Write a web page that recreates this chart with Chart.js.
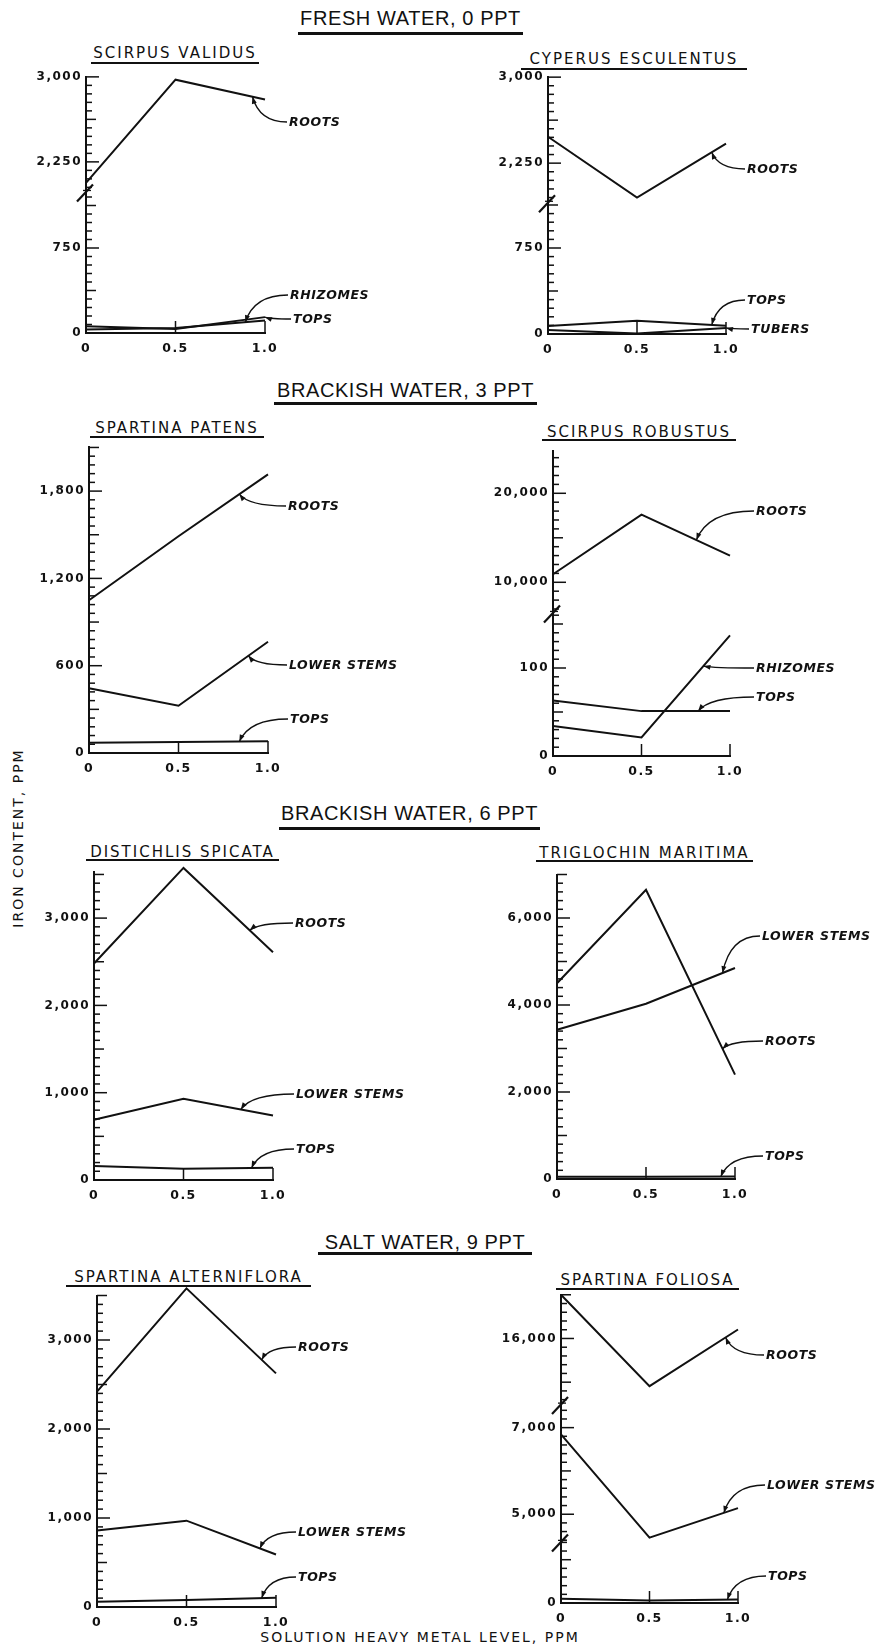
<!DOCTYPE html>
<html><head><meta charset="utf-8">
<script src="https://cdn.jsdelivr.net/npm/chart.js@4.4.1/dist/chart.umd.min.js"></script>
<style>
html,body{margin:0;padding:0;background:#fff;}
#page{position:relative;width:883px;height:1647px;overflow:hidden;background:#fff;color:#111;}
.sec{position:absolute;font-family:"Liberation Sans",Arial,sans-serif;font-size:20px;letter-spacing:0.6px;line-height:24px;height:24px;text-align:center;white-space:nowrap;}
.ptl{position:absolute;font-family:"DejaVu Sans",sans-serif;font-size:15px;letter-spacing:2px;line-height:18px;height:18px;text-align:center;white-space:nowrap;}
.ul{position:absolute;background:#111;}
.panel{position:absolute;}
.panel canvas{display:block;}
.ax{position:absolute;font-family:"DejaVu Sans",sans-serif;font-size:14px;letter-spacing:2px;line-height:18px;height:18px;white-space:nowrap;text-align:center;}
</style></head>
<body><div id="page"></div>
<script>
const INK = '#111';
const FONT = '"DejaVu Sans", sans-serif';

// ---------- x axis ----------
const xLevels = [0, 0.5, 1.0];
const xTickLabels = ['0', '0.5', '1.0'];

// ---------- FRESH WATER, 0 PPT ----------
const scirpusValidusRoots = [2065, 2975, 2800];
const scirpusValidusRhizomes = [30, 45, 110];
const scirpusValidusTops = [60, 35, 140];
const scirpusValidusTickLabels = [0, 750, 2250, 3000];

const cyperusRoots = [2480, 1950, 2420];
const cyperusTops = [70, 115, 73];
const cyperusTubers = [35, 5, 53];
const cyperusTickLabels = [0, 750, 2250, 3000];

// ---------- BRACKISH WATER, 3 PPT ----------
const patensRoots = [1050, 1490, 1915];
const patensLowerStems = [445, 325, 765];
const patensTops = [70, 75, 80];
const patensTickLabels = [0, 600, 1200, 1800];

const robustusRoots = [10900, 17600, 13000];
const robustusRhizomes = [34, 21, 137];
const robustusTops = [63, 51, 51];
const robustusTickLabels = [0, 100, 10000, 20000];

// ---------- BRACKISH WATER, 6 PPT ----------
const distichlisRoots = [2480, 3575, 2610];
const distichlisLowerStems = [690, 930, 740];
const distichlisTops = [160, 130, 140];
const distichlisTickLabels = [0, 1000, 2000, 3000];

const triglochinRoots = [4500, 6650, 2400];
const triglochinLowerStems = [3430, 4030, 4850];
const triglochinTops = [50, 50, 55];
const triglochinTickLabels = [0, 2000, 4000, 6000];

// ---------- SALT WATER, 9 PPT ----------
const alternifloraRoots = [2420, 3580, 2625];
const alternifloraLowerStems = [860, 970, 590];
const alternifloraTops = [60, 80, 105];
const alternifloraTickLabels = [0, 1000, 2000, 3000];

const foliosaRoots = [18000, 13820, 16410];
const foliosaLowerStems = [6845, 4460, 5140];
const foliosaTops = [100, 60, 80];
const foliosaTickLabels = [0, 5000, 7000, 16000];

// ---------- layout ----------
const sections = [
  {t: 'FRESH WATER, 0 PPT', x0: 298, x1: 523, cy: 18, uy: 33},
  {t: 'BRACKISH WATER, 3 PPT', x0: 274, x1: 537, cy: 390, uy: 403},
  {t: 'BRACKISH WATER, 6 PPT', x0: 279, x1: 540, cy: 813, uy: 828},
  {t: 'SALT WATER, 9 PPT', x0: 318, x1: 532, cy: 1242, uy: 1253}
];
const cols = [{x: 0, w: 440}, {x: 440, w: 443}];
const rows = [{y: 40, h: 330}, {y: 425, h: 362}, {y: 850, h: 360}, {y: 1275, h: 362}];
const WY = 78, HX = 26;

const panels = [
  {title: 'SCIRPUS VALIDUS', tx0: 91, tx1: 259, tcy: 53, tuy: 63, col: 0, row: 0,
   area: {left: 86, right: 265, bottom: 333}, labels: scirpusValidusTickLabels,
   segs: [{min: 0, max: 1240, k: 85/750, minor: 75, half: 375}, {min: 1980, max: 3000, k: 85/750, minor: 75, half: 375}],
   series: [{name: 'ROOTS', data: scirpusValidusRoots, seg: 1}, {name: 'RHIZOMES', data: scirpusValidusRhizomes, seg: 0}, {name: 'TOPS', data: scirpusValidusTops, seg: 0}],
   notes: [{s: 'ROOTS', tx: 0.93, lx: 289, ly: 123}, {s: 'RHIZOMES', tx: 0.89, lx: 290, ly: 296}, {s: 'TOPS', tx: 1.0, lx: 293, ly: 320}]},
  {title: 'CYPERUS ESCULENTUS', tx0: 521, tx1: 747, tcy: 59, tuy: 69, col: 1, row: 0,
   area: {left: 548, right: 726, bottom: 334}, labels: cyperusTickLabels,
   segs: [{min: 0, max: 1140, k: 86/750, minor: 75, half: 375}, {min: 1900, max: 3000, k: 86/750, minor: 75, half: 375}],
   series: [{name: 'ROOTS', data: cyperusRoots, seg: 1}, {name: 'TOPS', data: cyperusTops, seg: 0}, {name: 'TUBERS', data: cyperusTubers, seg: 0}],
   notes: [{s: 'ROOTS', tx: 0.92, lx: 747, ly: 170}, {s: 'TOPS', tx: 0.92, lx: 747, ly: 301}, {s: 'TUBERS', tx: 1.0, lx: 751, ly: 330}]},
  {title: 'SPARTINA PATENS', tx0: 90, tx1: 264, tcy: 428, tuy: 437, col: 0, row: 1,
   area: {left: 89, right: 268, bottom: 753}, labels: patensTickLabels,
   segs: [{min: 0, max: 2100, k: 87.3/600, minor: 60, half: 300}],
   series: [{name: 'ROOTS', data: patensRoots, seg: 0}, {name: 'LOWER STEMS', data: patensLowerStems, seg: 0}, {name: 'TOPS', data: patensTops, seg: 0}],
   notes: [{s: 'ROOTS', tx: 0.84, lx: 288, ly: 507}, {s: 'LOWER STEMS', tx: 0.89, lx: 289, ly: 666}, {s: 'TOPS', tx: 0.84, lx: 290, ly: 720}]},
  {title: 'SCIRPUS ROBUSTUS', tx0: 542, tx1: 736, tcy: 432, tuy: 440, col: 1, row: 1,
   area: {left: 553, right: 730, bottom: 756}, labels: robustusTickLabels,
   segs: [{min: 0, max: 162, k: 0.88, minor: 10, half: 50}, {min: 6500, max: 24800, k: 0.0089, minor: 1000, half: 5000}],
   series: [{name: 'ROOTS', data: robustusRoots, seg: 1}, {name: 'RHIZOMES', data: robustusRhizomes, seg: 0}, {name: 'TOPS', data: robustusTops, seg: 0}],
   notes: [{s: 'ROOTS', tx: 0.81, lx: 756, ly: 512}, {s: 'RHIZOMES', tx: 0.85, lx: 756, ly: 669}, {s: 'TOPS', tx: 0.82, lx: 756, ly: 698}]},
  {title: 'DISTICHLIS SPICATA', tx0: 86, tx1: 279, tcy: 852, tuy: 860, col: 0, row: 2,
   area: {left: 94, right: 273, bottom: 1180}, labels: distichlisTickLabels,
   segs: [{min: 0, max: 3530, k: 0.0873, minor: 100, half: 500}],
   series: [{name: 'ROOTS', data: distichlisRoots, seg: 0}, {name: 'LOWER STEMS', data: distichlisLowerStems, seg: 0}, {name: 'TOPS', data: distichlisTops, seg: 0}],
   notes: [{s: 'ROOTS', tx: 0.87, lx: 295, ly: 924}, {s: 'LOWER STEMS', tx: 0.82, lx: 296, ly: 1095}, {s: 'TOPS', tx: 0.88, lx: 296, ly: 1150}]},
  {title: 'TRIGLOCHIN MARITIMA', tx0: 536, tx1: 753, tcy: 853, tuy: 861, col: 1, row: 2,
   area: {left: 557, right: 735, bottom: 1179}, labels: triglochinTickLabels,
   segs: [{min: 0, max: 7000, k: 0.0435, minor: 200, half: 1000}],
   series: [{name: 'ROOTS', data: triglochinRoots, seg: 0}, {name: 'LOWER STEMS', data: triglochinLowerStems, seg: 0}, {name: 'TOPS', data: triglochinTops, seg: 0}],
   notes: [{s: 'LOWER STEMS', tx: 0.93, lx: 762, ly: 937}, {s: 'ROOTS', tx: 0.93, lx: 765, ly: 1042}, {s: 'TOPS', tx: 0.92, lx: 765, ly: 1157}]},
  {title: 'SPARTINA ALTERNIFLORA', tx0: 66, tx1: 311, tcy: 1277, tuy: 1286, col: 0, row: 3,
   area: {left: 97, right: 276, bottom: 1607}, labels: alternifloraTickLabels,
   segs: [{min: 0, max: 3500, k: 0.089, minor: 100, half: 500}],
   series: [{name: 'ROOTS', data: alternifloraRoots, seg: 0}, {name: 'LOWER STEMS', data: alternifloraLowerStems, seg: 0}, {name: 'TOPS', data: alternifloraTops, seg: 0}],
   notes: [{s: 'ROOTS', tx: 0.92, lx: 298, ly: 1348}, {s: 'LOWER STEMS', tx: 0.91, lx: 298, ly: 1533}, {s: 'TOPS', tx: 0.92, lx: 298, ly: 1578}]},
  {title: 'SPARTINA FOLIOSA', tx0: 556, tx1: 739, tcy: 1280, tuy: 1289, col: 1, row: 3,
   area: {left: 561, right: 738, bottom: 1603}, labels: foliosaTickLabels,
   segs: [{min: 0, max: 1400, k: 0.0433, minor: 200, half: 1000}, {min: 4350, max: 7520, k: 0.0433, minor: 200, half: 1000}, {min: 12950, max: 18000, k: 0.02185, minor: 400, half: 2000}],
   series: [{name: 'ROOTS', data: foliosaRoots, seg: 2}, {name: 'LOWER STEMS', data: foliosaLowerStems, seg: 1}, {name: 'TOPS', data: foliosaTops, seg: 0}],
   notes: [{s: 'ROOTS', tx: 0.93, lx: 766, ly: 1356}, {s: 'LOWER STEMS', tx: 0.92, lx: 767, ly: 1486}, {s: 'TOPS', tx: 0.94, lx: 768, ly: 1577}]}
];

const page = document.getElementById('page');
function addDiv(cls, text, css) {
  const d = document.createElement('div');
  if (cls) d.className = cls;
  if (text) d.textContent = text;
  Object.assign(d.style, css);
  page.appendChild(d);
  return d;
}
sections.forEach(s => {
  addDiv('sec', s.t, {left: s.x0 + 'px', width: (s.x1 - s.x0) + 'px', top: (s.cy - 12) + 'px'});
  addDiv('ul', '', {left: s.x0 + 'px', width: (s.x1 - s.x0) + 'px', top: (s.uy - 1.5) + 'px', height: '3px'});
});
addDiv('ax', 'IRON CONTENT, PPM', {left: (18 - 150) + 'px', top: (838 - 9) + 'px', width: '300px', transform: 'rotate(-90deg)'});
addDiv('ax', 'SOLUTION HEAVY METAL LEVEL, PPM', {left: (420 - 200) + 'px', top: (1637 - 9) + 'px', width: '400px'});

function fmt(v) { return v.toLocaleString('en-US'); }
function valueAt(data, tx) {
  for (let i = 0; i < xLevels.length - 1; i++) {
    if (tx <= xLevels[i + 1]) {
      const t = (tx - xLevels[i]) / (xLevels[i + 1] - xLevels[i]);
      return data[i] + (data[i + 1] - data[i]) * t;
    }
  }
  return data[data.length - 1];
}
function segTicks(seg) {
  const out = [];
  for (let v = Math.ceil(seg.min / seg.minor) * seg.minor; v <= seg.max + 1e-9; v += seg.minor) out.push(v);
  return out;
}

panels.forEach((p, pi) => {
  const c = cols[p.col], r = rows[p.row];
  addDiv('ptl', p.title, {left: p.tx0 + 'px', width: (p.tx1 - p.tx0) + 'px', top: (p.tcy - 9) + 'px'});
  addDiv('ul', '', {left: p.tx0 + 'px', width: (p.tx1 - p.tx0) + 'px', top: (p.tuy - 1) + 'px', height: '2px'});

  const div = addDiv('panel', '', {left: c.x + 'px', top: r.y + 'px', width: c.w + 'px', height: r.h + 'px'});
  const cv = document.createElement('canvas');
  cv.width = c.w; cv.height = r.h;
  cv.style.width = c.w + 'px'; cv.style.height = r.h + 'px';
  div.appendChild(cv);

  const heights = p.segs.map(s => (s.max - s.min) * s.k);
  const total = heights.reduce((a, b) => a + b, 0);
  const top = p.area.bottom - total;
  const padding = {
    left: p.area.left - c.x - WY,
    right: c.x + c.w - p.area.right,
    top: top - r.y,
    bottom: r.y + r.h - p.area.bottom - HX
  };

  const scales = {
    x: {
      type: 'linear', min: 0, max: 1,
      grid: {display: false, drawTicks: false},
      border: {display: true, color: INK, width: 2},
      afterBuildTicks: sc => { sc.ticks = xLevels.map(v => ({value: v})); },
      afterFit: sc => { sc.height = HX; },
      ticks: {autoSkip: false, maxRotation: 0, padding: 8, color: INK,
              font: {family: FONT, size: 12.5, weight: 'bold'},
              callback: v => { const i = xLevels.indexOf(v); return i >= 0 ? xTickLabels[i] : ''; }}
    }
  };
  p.segs.forEach((seg, i) => {
    const ticks = segTicks(seg);
    const cfg = {
      type: 'linear', position: 'left', min: seg.min, max: seg.max,
      grid: {display: false, drawTicks: false},
      border: {display: true, color: INK, width: 2},
      afterBuildTicks: sc => { sc.ticks = ticks.map(v => ({value: v})); },
      afterFit: sc => { sc.width = WY; },
      ticks: {autoSkip: false, padding: 4, color: INK,
              font: {family: FONT, size: 12, weight: 'bold'},
              callback: v => p.labels.includes(v) ? fmt(v) : ''}
    };
    if (p.segs.length > 1) { cfg.stack = 'left'; cfg.stackWeight = heights[i]; }
    scales['y' + i] = cfg;
  });

  const datasets = p.series.map(s => ({
    label: s.name,
    data: s.data.map((v, i) => ({x: xLevels[i], y: v})),
    yAxisID: 'y' + s.seg,
    borderColor: INK, borderWidth: 2, pointRadius: 0, tension: 0, fill: false, clip: false
  }));

  const decor = {
    id: 'decor' + pi,
    beforeDraw(chart) { chart.ctx.letterSpacing = '1.5px'; },
    afterDraw(chart) {
      const ctx = chart.ctx, area = chart.chartArea;
      ctx.save();
      ctx.letterSpacing = '0px';
      ctx.strokeStyle = INK; ctx.fillStyle = INK;
      // inner y ticks
      p.segs.forEach((seg, i) => {
        const sc = chart.scales['y' + i];
        const x0 = area.left;
        ctx.lineWidth = 1.5;
        sc.ticks.forEach(t => {
          const y = sc.getPixelForValue(t.value);
          const len = p.labels.includes(t.value) ? 13 : (Math.abs(t.value % seg.half) < 1e-6 ? 10 : 6);
          ctx.beginPath(); ctx.moveTo(x0, y); ctx.lineTo(x0 + len, y); ctx.stroke();
        });
        if (i > 0) {
          const y = sc.bottom;
          ctx.lineWidth = 2.2;
          ctx.beginPath(); ctx.moveTo(x0 - 9, y + 9); ctx.lineTo(x0 + 7, y - 8); ctx.stroke();
          ctx.lineWidth = 1.3;
          ctx.beginPath(); ctx.moveTo(x0 - 3, y - 2); ctx.lineTo(x0 + 5, y - 2); ctx.stroke();
        }
      });
      // upward x ticks
      const xs = chart.scales.x;
      ctx.lineWidth = 1.5;
      xLevels.slice(1).forEach(v => {
        const x = xs.getPixelForValue(v);
        ctx.beginPath(); ctx.moveTo(x, area.bottom); ctx.lineTo(x, area.bottom - 12); ctx.stroke();
      });
      // leaders + labels
      p.notes.forEach(n => {
        const s = p.series.find(q => q.name === n.s);
        const ys = chart.scales['y' + s.seg];
        const tX = xs.getPixelForValue(n.tx);
        const tY = ys.getPixelForValue(valueAt(s.data, n.tx));
        const sx = n.lx - c.x - 2, sy = n.ly - r.y - 1;
        const qx = tX + (sx - tX) * 0.2, qy = sy;
        ctx.lineWidth = 1.3;
        ctx.beginPath(); ctx.moveTo(sx, sy); ctx.quadraticCurveTo(qx, qy, tX, tY); ctx.stroke();
        let dx = tX - qx, dy = tY - qy;
        const L = Math.hypot(dx, dy) || 1; dx /= L; dy /= L;
        const al = 7, aw = 2.5;
        ctx.beginPath();
        ctx.moveTo(tX, tY);
        ctx.lineTo(tX - dx * al - dy * aw, tY - dy * al + dx * aw);
        ctx.lineTo(tX - dx * al + dy * aw, tY - dy * al - dx * aw);
        ctx.closePath(); ctx.fill();
        ctx.font = 'italic bold 12.5px ' + FONT;
        ctx.letterSpacing = '0.6px';
        ctx.textAlign = 'left'; ctx.textBaseline = 'middle';
        ctx.fillText(n.s, n.lx - c.x, n.ly - r.y);
        ctx.letterSpacing = '0px';
      });
      ctx.restore();
    }
  };

  new Chart(cv, {
    type: 'line',
    data: {datasets},
    options: {
      responsive: false, animation: false, events: [],
      layout: {padding},
      plugins: {legend: {display: false}, tooltip: {enabled: false}, title: {display: false}},
      scales
    },
    plugins: [decor]
  });
});
</script>
</body></html>
